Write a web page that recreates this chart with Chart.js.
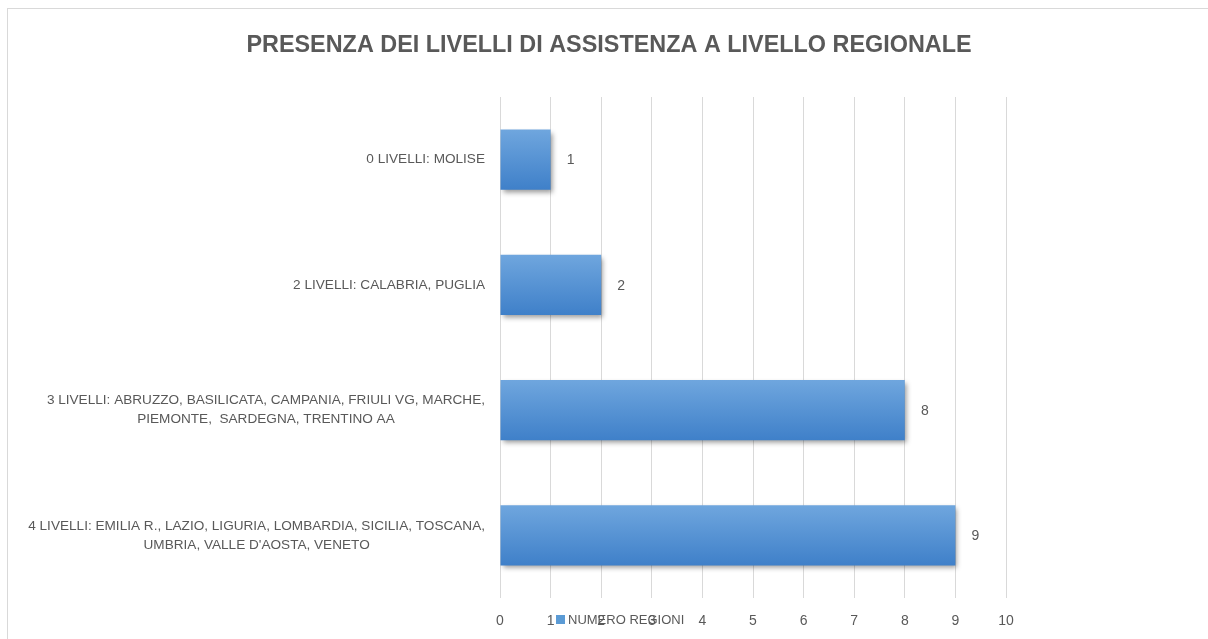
<!DOCTYPE html>
<html>
<head>
<meta charset="utf-8">
<script src="https://cdn.jsdelivr.net/npm/chart.js@4/dist/chart.umd.min.js"></script>
<style>
  html, body { margin: 0; padding: 0; background: #fff; }
  #wrap { width: 1208px; height: 639px; }
</style>
</head>
<body>
<div id="wrap"><canvas id="chart" width="1208" height="639"></canvas></div>
<script>
// data
const chartTitle = 'PRESENZA DEI LIVELLI DI ASSISTENZA A LIVELLO REGIONALE';
const seriesName = 'NUMERO REGIONI';
const categories = [
    ['0 LIVELLI: MOLISE'],
    ['2 LIVELLI: CALABRIA, PUGLIA'],
    ['3 LIVELLI: ABRUZZO, BASILICATA, CAMPANIA, FRIULI VG, MARCHE,', 'PIEMONTE,  SARDEGNA, TRENTINO AA'],
    ['4 LIVELLI: EMILIA R., LAZIO, LIGURIA, LOMBARDIA, SICILIA, TOSCANA,', 'UMBRIA, VALLE D\'AOSTA, VENETO']
];
const regionCounts = [1, 2, 8, 9];
const xTicks = [0, 1, 2, 3, 4, 5, 6, 7, 8, 9, 10];

const textColor = '#595959';
const fontFamily = '"Liberation Sans", sans-serif';
const labelFont = '13.6px ' + fontFamily;
const BAR_PCT = 0.48;

// gradient per bar, worked out from the y scale
function barGradient(c) {
    const chart = c.chart;
    const y = chart.scales.y;
    if (!y || c.dataIndex === undefined) return '#5b9bd5';
    const mid = y.getPixelForValue(c.dataIndex);
    const half = (y.height / categories.length) * BAR_PCT / 2;
    if (!isFinite(mid) || !isFinite(half) || half <= 0) return '#5b9bd5';
    const g = chart.ctx.createLinearGradient(0, mid - half, 0, mid + half);
    g.addColorStop(0, '#6fa6de');
    g.addColorStop(1, '#3f80c9');
    return g;
}

const chromePlugin = {
    id: 'chrome',
    beforeDraw(chart) {
        const ctx = chart.ctx;
        ctx.save();
        ctx.fillStyle = '#fff';
        ctx.fillRect(0, 0, chart.width, chart.height);
        ctx.strokeStyle = '#d9d9d9';
        ctx.lineWidth = 1;
        ctx.strokeRect(7.5, 8.5, chart.width + 10, chart.height + 10);
        ctx.restore();
    },
    beforeDatasetsDraw(chart) {
        const ctx = chart.ctx;
        ctx.save();
        ctx.shadowColor = 'rgba(0,0,0,0.4)';
        ctx.shadowBlur = 5;
        ctx.shadowOffsetX = 2;
        ctx.shadowOffsetY = 3;
    },
    afterDatasetsDraw(chart) {
        const ctx = chart.ctx;
        ctx.restore();
        ctx.save();
        ctx.fillStyle = textColor;
        ctx.font = '14px ' + fontFamily;
        ctx.textAlign = 'center';
        ctx.textBaseline = 'middle';
        const meta = chart.getDatasetMeta(0);
        meta.data.forEach((el, i) => {
            ctx.fillText(String(regionCounts[i]), el.x + 20, el.y + 1);
        });
        ctx.restore();
    },
    afterDraw(chart) {
        const ctx = chart.ctx;
        const y = chart.scales.y;
        ctx.save();
        ctx.fillStyle = textColor;
        ctx.font = labelFont;
        ctx.textBaseline = 'middle';
        ctx.textAlign = 'center';
        const rightEdge = 485;
        const lineH = 19;
        categories.forEach((lines, i) => {
            const w = Math.max(...lines.map(l => ctx.measureText(l).width));
            const cx = rightEdge - w / 2;
            const cy = y.getPixelForValue(i);
            const y0 = cy - (lines.length - 1) * lineH / 2;
            lines.forEach((l, k) => ctx.fillText(l, cx, y0 + k * lineH));
        });

        // title
        ctx.font = 'bold 23.4px ' + fontFamily;
        ctx.fillText(chartTitle, 609, 46);

        // legend, sits over the x tick labels like in the original
        ctx.fillStyle = '#5b9bd5';
        ctx.fillRect(556, 615, 9, 9);
        ctx.fillStyle = textColor;
        ctx.font = '13px ' + fontFamily;
        ctx.textAlign = 'left';
        ctx.fillText(chart.data.datasets[0].label, 568, 620);
        ctx.restore();
    }
};

new Chart(document.getElementById('chart'), {
    type: 'bar',
    data: {
        labels: categories,
        datasets: [{
            label: seriesName,
            data: regionCounts,
            backgroundColor: barGradient,
            borderWidth: 0,
            barPercentage: BAR_PCT,
            categoryPercentage: 1
        }]
    },
    options: {
        indexAxis: 'y',
        responsive: false,
        animation: false,
        layout: { padding: { top: 97, right: 202, left: 0, bottom: 0 } },
        plugins: {
            legend: { display: false },
            title: { display: false },
            tooltip: { enabled: false }
        },
        scales: {
            x: {
                min: 0,
                max: 10,
                afterBuildTicks(scale) {
                    scale.ticks = xTicks.map(v => ({ value: v }));
                },
                afterFit(scale) { scale.height = 41; },
                border: { display: false },
                grid: { color: '#d9d9d9', drawTicks: false },
                ticks: {
                    color: textColor,
                    font: { family: fontFamily, size: 14 },
                    padding: 15
                }
            },
            y: {
                afterFit(scale) { scale.width = 500; },
                border: { display: false },
                grid: { display: false },
                ticks: { display: false }
            }
        }
    },
    plugins: [chromePlugin]
});
</script>
</body>
</html>
